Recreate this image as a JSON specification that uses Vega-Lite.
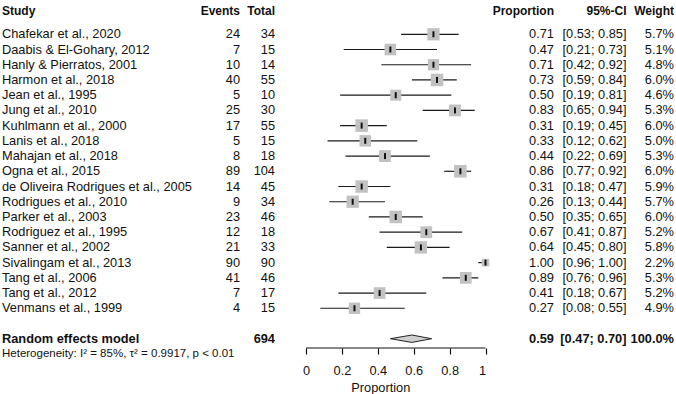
{
  "$schema": "https://vega.github.io/schema/vega-lite/v6.json",
  "padding": {"left": 2, "top": 0, "right": 0, "bottom": 0},
  "autosize": {"type": "pad"},
  "bounds": "flush",
  "spacing": 0,
  "background": "white",
  "config": {
    "view": {"stroke": null},
    "font": "Liberation Sans",
    "text": {"font": "Liberation Sans", "fontSize": 12.8, "color": "#111111", "baseline": "middle"}
  },
  "datasets": {
    "studies": [
      {"study": "Chafekar et al., 2020", "events": 24, "total": 34, "prop": 0.71, "lo": 0.53, "hi": 0.85, "weight": 0.057, "order": 1},
      {"study": "Daabis & El-Gohary, 2012", "events": 7, "total": 15, "prop": 0.47, "lo": 0.21, "hi": 0.73, "weight": 0.051, "order": 2},
      {"study": "Hanly & Pierratos, 2001", "events": 10, "total": 14, "prop": 0.71, "lo": 0.42, "hi": 0.92, "weight": 0.048, "order": 3},
      {"study": "Harmon et al., 2018", "events": 40, "total": 55, "prop": 0.73, "lo": 0.59, "hi": 0.84, "weight": 0.060, "order": 4},
      {"study": "Jean et al., 1995", "events": 5, "total": 10, "prop": 0.50, "lo": 0.19, "hi": 0.81, "weight": 0.046, "order": 5},
      {"study": "Jung et al., 2010", "events": 25, "total": 30, "prop": 0.83, "lo": 0.65, "hi": 0.94, "weight": 0.053, "order": 6},
      {"study": "Kuhlmann et al., 2000", "events": 17, "total": 55, "prop": 0.31, "lo": 0.19, "hi": 0.45, "weight": 0.060, "order": 7},
      {"study": "Lanis et al., 2018", "events": 5, "total": 15, "prop": 0.33, "lo": 0.12, "hi": 0.62, "weight": 0.050, "order": 8},
      {"study": "Mahajan et al., 2018", "events": 8, "total": 18, "prop": 0.44, "lo": 0.22, "hi": 0.69, "weight": 0.053, "order": 9},
      {"study": "Ogna et al., 2015", "events": 89, "total": 104, "prop": 0.86, "lo": 0.77, "hi": 0.92, "weight": 0.060, "order": 10},
      {"study": "de Oliveira Rodrigues et al., 2005", "events": 14, "total": 45, "prop": 0.31, "lo": 0.18, "hi": 0.47, "weight": 0.059, "order": 11},
      {"study": "Rodrigues et al., 2010", "events": 9, "total": 34, "prop": 0.26, "lo": 0.13, "hi": 0.44, "weight": 0.057, "order": 12},
      {"study": "Parker et al., 2003", "events": 23, "total": 46, "prop": 0.50, "lo": 0.35, "hi": 0.65, "weight": 0.060, "order": 13},
      {"study": "Rodriguez et al., 1995", "events": 12, "total": 18, "prop": 0.67, "lo": 0.41, "hi": 0.87, "weight": 0.052, "order": 14},
      {"study": "Sanner et al., 2002", "events": 21, "total": 33, "prop": 0.64, "lo": 0.45, "hi": 0.80, "weight": 0.058, "order": 15},
      {"study": "Sivalingam et al., 2013", "events": 90, "total": 90, "prop": 1.00, "lo": 0.96, "hi": 1.00, "weight": 0.022, "order": 16},
      {"study": "Tang et al., 2006", "events": 41, "total": 46, "prop": 0.89, "lo": 0.76, "hi": 0.96, "weight": 0.053, "order": 17},
      {"study": "Tang et al., 2012", "events": 7, "total": 17, "prop": 0.41, "lo": 0.18, "hi": 0.67, "weight": 0.052, "order": 18},
      {"study": "Venmans et al., 1999", "events": 4, "total": 15, "prop": 0.27, "lo": 0.08, "hi": 0.55, "weight": 0.049, "order": 19}
    ],
    "pooled": [
      {"study": "Random effects model", "total": 694, "prop": 0.59, "lo": 0.47, "hi": 0.70, "weight": 1.0, "order": 21}
    ],
    "het": [
      {"text": "Heterogeneity: I² = 85%, τ² = 0.9917, p < 0.01", "order": 22}
    ]
  },
  "hconcat": [
    {
      "width": 238,
      "height": 348,
      "layer": [
        {
          "data": {"name": "studies"},
          "mark": {"type": "text", "align": "left", "x": 0},
          "encoding": {
            "y": {"field": "order", "type": "quantitative", "scale": {"domain": [-1.2536, 21.61], "reverse": true, "nice": false, "zero": false}, "axis": null},
            "text": {"field": "study"}
          }
        },
        {
          "data": {"name": "studies"},
          "mark": {"type": "text", "align": "right", "x": "width"},
          "encoding": {
            "y": {"field": "order", "type": "quantitative", "scale": {"domain": [-1.2536, 21.61], "reverse": true, "nice": false, "zero": false}, "axis": null},
            "text": {"field": "events", "type": "quantitative"}
          }
        },
        {
          "data": {"name": "pooled"},
          "mark": {"type": "text", "align": "left", "x": 0, "fontWeight": "bold"},
          "encoding": {
            "y": {"field": "order", "type": "quantitative", "scale": {"domain": [-1.2536, 21.61], "reverse": true, "nice": false, "zero": false}, "axis": null},
            "text": {"field": "study"}
          }
        },
        {
          "data": {"name": "het"},
          "mark": {"type": "text", "align": "left", "x": 0, "fontSize": 11.5},
          "encoding": {
            "y": {"field": "order", "type": "quantitative", "scale": {"domain": [-1.2536, 21.61], "reverse": true, "nice": false, "zero": false}, "axis": null},
            "text": {"field": "text"}
          }
        },
        {
          "data": {"values": [{}]},
          "mark": {"type": "text", "align": "left", "x": 0, "fontWeight": "bold", "fontSize": 12, "text": "Study"},
          "encoding": {
            "y": {"datum": -0.5, "type": "quantitative", "scale": {"domain": [-1.2536, 21.61], "reverse": true, "nice": false, "zero": false}, "axis": null}
          }
        },
        {
          "data": {"values": [{}]},
          "mark": {"type": "text", "align": "right", "x": "width", "fontWeight": "bold", "fontSize": 12, "text": "Events"},
          "encoding": {
            "y": {"datum": -0.5, "type": "quantitative", "scale": {"domain": [-1.2536, 21.61], "reverse": true, "nice": false, "zero": false}, "axis": null}
          }
        }
      ]
    },
    {
      "width": 35,
      "height": 348,
      "layer": [
        {
          "data": {"name": "studies"},
          "mark": {"type": "text", "align": "right", "x": "width"},
          "encoding": {
            "y": {"field": "order", "type": "quantitative", "scale": {"domain": [-1.2536, 21.61], "reverse": true, "nice": false, "zero": false}, "axis": null},
            "text": {"field": "total", "type": "quantitative"}
          }
        },
        {
          "data": {"name": "pooled"},
          "mark": {"type": "text", "align": "right", "x": "width", "fontWeight": "bold"},
          "encoding": {
            "y": {"field": "order", "type": "quantitative", "scale": {"domain": [-1.2536, 21.61], "reverse": true, "nice": false, "zero": false}, "axis": null},
            "text": {"field": "total", "type": "quantitative"}
          }
        },
        {
          "data": {"values": [{}]},
          "mark": {"type": "text", "align": "right", "x": "width", "fontWeight": "bold", "fontSize": 12, "text": "Total"},
          "encoding": {
            "y": {"datum": -0.5, "type": "quantitative", "scale": {"domain": [-1.2536, 21.61], "reverse": true, "nice": false, "zero": false}, "axis": null}
          }
        }
      ]
    },
    {
      "width": 210.5,
      "height": 348,
      "layer": [
        {
          "data": {"name": "studies"},
          "mark": {"type": "rule", "color": "#1a1a1a", "strokeWidth": 1.2},
          "encoding": {
            "x": {
              "field": "lo", "type": "quantitative", "title": "Proportion",
              "scale": {"domain": [-0.1727, 1], "nice": false, "zero": false},
              "axis": {
                "values": [0, 0.2, 0.4, 0.6, 0.8, 1],
                "labelExpr": "toString(datum.value)",
                "domain": false, "grid": false,
                "tickSize": 6, "tickColor": "#111111", "tickWidth": 1.2,
                "labelFontSize": 12.8, "labelColor": "#111111", "labelPadding": 10,
                "labelFont": "Liberation Sans",
                "titleFont": "Liberation Sans", "titleFontSize": 12.8, "titleFontWeight": "normal",
                "titleColor": "#111111", "titlePadding": 5
              }
            },
            "x2": {"field": "hi"},
            "y": {"field": "order", "type": "quantitative", "scale": {"domain": [-1.2536, 21.61], "reverse": true, "nice": false, "zero": false}, "axis": null}
          }
        },
        {
          "data": {"name": "studies"},
          "mark": {"type": "point", "shape": "square", "filled": true, "color": "#c2c2c2", "opacity": 1},
          "encoding": {
            "x": {"field": "prop", "type": "quantitative", "title": "Proportion", "scale": {"domain": [-0.1727, 1], "nice": false, "zero": false}},
            "y": {"field": "order", "type": "quantitative", "scale": {"domain": [-1.2536, 21.61], "reverse": true, "nice": false, "zero": false}, "axis": null},
            "size": {"field": "weight", "type": "quantitative", "scale": {"type": "linear", "domain": [0, 0.06], "range": [0, 158]}, "legend": null}
          }
        },
        {
          "data": {"name": "studies"},
          "mark": {"type": "tick", "orient": "vertical", "size": 6, "thickness": 2, "color": "#111111", "opacity": 1},
          "encoding": {
            "x": {"field": "prop", "type": "quantitative", "title": "Proportion", "scale": {"domain": [-0.1727, 1], "nice": false, "zero": false}},
            "y": {"field": "order", "type": "quantitative", "scale": {"domain": [-1.2536, 21.61], "reverse": true, "nice": false, "zero": false}, "axis": null}
          }
        },
        {
          "data": {"name": "pooled"},
          "mark": {
            "type": "point", "filled": true, "color": "#d0d0d0", "opacity": 1,
            "stroke": "#222222", "strokeWidth": 1, "strokeOpacity": 1,
            "shape": "M-1,0L0,-0.172L0.9167,0L0,0.172Z", "size": 1856
          },
          "encoding": {
            "x": {"field": "prop", "type": "quantitative", "title": "Proportion", "scale": {"domain": [-0.1727, 1], "nice": false, "zero": false}},
            "y": {"field": "order", "type": "quantitative", "scale": {"domain": [-1.2536, 21.61], "reverse": true, "nice": false, "zero": false}, "axis": null}
          }
        },
        {
          "data": {"values": [{}]},
          "mark": {"type": "rule", "color": "#111111", "strokeWidth": 1.2, "y": "height"},
          "encoding": {
            "x": {"datum": 0, "type": "quantitative", "title": "Proportion", "scale": {"domain": [-0.1727, 1], "nice": false, "zero": false}},
            "x2": {"datum": 1}
          }
        }
      ]
    },
    {
      "width": 68,
      "height": 348,
      "layer": [
        {
          "data": {"name": "studies"},
          "mark": {"type": "text", "align": "right", "x": "width"},
          "encoding": {
            "y": {"field": "order", "type": "quantitative", "scale": {"domain": [-1.2536, 21.61], "reverse": true, "nice": false, "zero": false}, "axis": null},
            "text": {"field": "prop", "type": "quantitative", "format": ".2f"}
          }
        },
        {
          "data": {"name": "pooled"},
          "mark": {"type": "text", "align": "right", "x": "width", "fontWeight": "bold"},
          "encoding": {
            "y": {"field": "order", "type": "quantitative", "scale": {"domain": [-1.2536, 21.61], "reverse": true, "nice": false, "zero": false}, "axis": null},
            "text": {"field": "prop", "type": "quantitative", "format": ".2f"}
          }
        },
        {
          "data": {"values": [{}]},
          "mark": {"type": "text", "align": "right", "x": "width", "fontWeight": "bold", "fontSize": 12, "text": "Proportion"},
          "encoding": {
            "y": {"datum": -0.5, "type": "quantitative", "scale": {"domain": [-1.2536, 21.61], "reverse": true, "nice": false, "zero": false}, "axis": null}
          }
        }
      ]
    },
    {
      "width": 72.5,
      "height": 348,
      "layer": [
        {
          "data": {"name": "studies"},
          "transform": [{"calculate": "'[' + format(datum.lo, '.2f') + '; ' + format(datum.hi, '.2f') + ']'", "as": "ci"}],
          "mark": {"type": "text", "align": "right", "x": "width"},
          "encoding": {
            "y": {"field": "order", "type": "quantitative", "scale": {"domain": [-1.2536, 21.61], "reverse": true, "nice": false, "zero": false}, "axis": null},
            "text": {"field": "ci"}
          }
        },
        {
          "data": {"name": "pooled"},
          "transform": [{"calculate": "'[' + format(datum.lo, '.2f') + '; ' + format(datum.hi, '.2f') + ']'", "as": "ci"}],
          "mark": {"type": "text", "align": "right", "x": "width", "fontWeight": "bold"},
          "encoding": {
            "y": {"field": "order", "type": "quantitative", "scale": {"domain": [-1.2536, 21.61], "reverse": true, "nice": false, "zero": false}, "axis": null},
            "text": {"field": "ci"}
          }
        },
        {
          "data": {"values": [{}]},
          "mark": {"type": "text", "align": "right", "x": "width", "fontWeight": "bold", "fontSize": 12, "text": "95%-CI"},
          "encoding": {
            "y": {"datum": -0.5, "type": "quantitative", "scale": {"domain": [-1.2536, 21.61], "reverse": true, "nice": false, "zero": false}, "axis": null}
          }
        }
      ]
    },
    {
      "width": 47,
      "height": 348,
      "layer": [
        {
          "data": {"name": "studies"},
          "mark": {"type": "text", "align": "right", "x": "width"},
          "encoding": {
            "y": {"field": "order", "type": "quantitative", "scale": {"domain": [-1.2536, 21.61], "reverse": true, "nice": false, "zero": false}, "axis": null},
            "text": {"field": "weight", "type": "quantitative", "format": ".1%"}
          }
        },
        {
          "data": {"name": "pooled"},
          "mark": {"type": "text", "align": "right", "x": "width", "fontWeight": "bold"},
          "encoding": {
            "y": {"field": "order", "type": "quantitative", "scale": {"domain": [-1.2536, 21.61], "reverse": true, "nice": false, "zero": false}, "axis": null},
            "text": {"field": "weight", "type": "quantitative", "format": ".1%"}
          }
        },
        {
          "data": {"values": [{}]},
          "mark": {"type": "text", "align": "right", "x": "width", "fontWeight": "bold", "fontSize": 12, "text": "Weight"},
          "encoding": {
            "y": {"datum": -0.5, "type": "quantitative", "scale": {"domain": [-1.2536, 21.61], "reverse": true, "nice": false, "zero": false}, "axis": null}
          }
        }
      ]
    }
  ]
}
